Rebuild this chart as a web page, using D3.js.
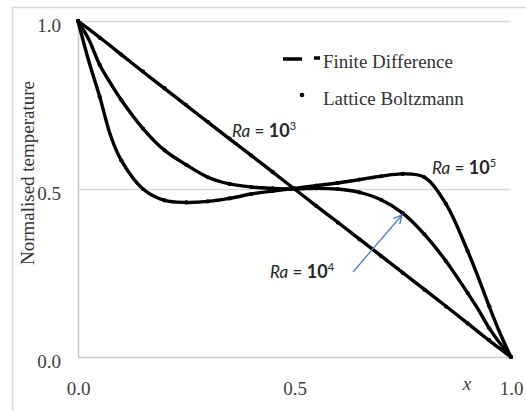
<!DOCTYPE html>
<html>
<head>
<meta charset="utf-8">
<script src="https://cdn.jsdelivr.net/npm/d3@7"></script>
<style>
  body { margin: 0; background: #fff; }
  svg { display: block; }
</style>
</head>
<body>
<div id="chart"></div>
<script>
// values
var xGrid = [0, 0.025, 0.05, 0.075, 0.1, 0.15, 0.2, 0.25, 0.3, 0.35, 0.4, 0.45, 0.5,
             0.55, 0.6, 0.65, 0.7, 0.75, 0.8, 0.85, 0.9, 0.925, 0.95, 0.975, 1];

// Finite Difference
var fdRa3 = [1, 0.976, 0.951, 0.926, 0.9, 0.849, 0.799, 0.749, 0.699, 0.649, 0.6, 0.55, 0.5,
             0.45, 0.401, 0.351, 0.301, 0.251, 0.201, 0.151, 0.1, 0.074, 0.049, 0.024, 0];
var fdRa4 = [1, 0.945, 0.87, 0.815, 0.765, 0.68, 0.615, 0.572, 0.535, 0.515, 0.506, 0.502, 0.5,
             0.502, 0.5, 0.49, 0.468, 0.428, 0.365, 0.285, 0.19, 0.14, 0.085, 0.04, 0];
var fdRa5 = [1, 0.88, 0.775, 0.66, 0.585, 0.5, 0.466, 0.46, 0.463, 0.472, 0.485, 0.494, 0.502,
             0.51, 0.518, 0.528, 0.538, 0.545, 0.535, 0.455, 0.315, 0.235, 0.15, 0.07, 0];

// Lattice Boltzmann
var lbX = [0, 0.05, 0.1, 0.15, 0.2, 0.25, 0.3, 0.35, 0.4, 0.45, 0.5,
           0.55, 0.6, 0.65, 0.7, 0.75, 0.8, 0.85, 0.9, 0.95, 1];
var lbRa3 = [1, 0.95, 0.9, 0.85, 0.8, 0.75, 0.7, 0.65, 0.6, 0.55, 0.5,
             0.45, 0.4, 0.35, 0.3, 0.25, 0.2, 0.15, 0.1, 0.05, 0];
var lbRa4 = [1, 0.87, 0.765, 0.68, 0.615, 0.572, 0.535, 0.515, 0.506, 0.502, 0.5,
             0.502, 0.5, 0.49, 0.468, 0.428, 0.365, 0.285, 0.19, 0.085, 0];
var lbRa5 = [1, 0.775, 0.585, 0.5, 0.466, 0.46, 0.463, 0.472, 0.485, 0.494, 0.502,
             0.51, 0.518, 0.528, 0.538, 0.545, 0.535, 0.455, 0.315, 0.15, 0];

var xTicks = [0, 0.5, 1];
var yTicks = [0, 0.5, 1];
var gridTicks = [0.5, 1];

var svgWidth = 526;
var svgHeight = 411;

var svg = d3.select("#chart")
  .append("svg")
  .attr("width", svgWidth)
  .attr("height", svgHeight);

// outer frame
svg.append("rect")
  .attr("x", 12.5)
  .attr("y", 7.5)
  .attr("width", 520)
  .attr("height", 420)
  .attr("fill", "none")
  .attr("stroke", "#d9d9d9")
  .attr("stroke-width", 1.5);

var xScale = d3.scaleLinear().domain([0, 1]).range([78, 511]);
var yScale = d3.scaleLinear().domain([0, 1]).range([357, 21]);

// gridlines
svg.append("g")
  .attr("transform", "translate(78,0)")
  .call(d3.axisLeft(yScale).tickValues(gridTicks).tickSize(-(511 - 78)).tickFormat(""))
  .call(g => g.select(".domain").remove())
  .selectAll("line")
  .attr("stroke", "#d9d9d9")
  .attr("stroke-width", 1.5);

// axes
var leftAxis = svg.append("g")
  .attr("transform", "translate(78,0)")
  .call(d3.axisLeft(yScale).tickValues(yTicks).tickSize(0).tickPadding(17).tickFormat(d3.format(".1f")));

var bottomAxis = svg.append("g")
  .attr("transform", "translate(0,357)")
  .call(d3.axisBottom(xScale).tickValues(xTicks).tickSize(0).tickPadding(25).tickFormat(d3.format(".1f")));

[leftAxis, bottomAxis].forEach(function(ax) {
  ax.select(".domain").attr("stroke", "#c8c8c8").attr("stroke-width", 1.5);
  ax.selectAll("text")
    .attr("font-family", "'Liberation Serif', 'Times New Roman', serif")
    .attr("font-size", 19)
    .attr("fill", "#404040");
});
leftAxis.selectAll("text").attr("dy", "0.55em");

// curves
var line = d3.line()
  .x(d => xScale(d[0]))
  .y(d => yScale(d[1]))
  .curve(d3.curveCatmullRom.alpha(0.5));

[fdRa3, fdRa4, fdRa5].forEach(function(series) {
  svg.append("path")
    .datum(xGrid.map((x, i) => [x, series[i]]))
    .attr("d", line)
    .attr("fill", "none")
    .attr("stroke", "#000")
    .attr("stroke-width", 3.4);
});

[lbRa3, lbRa4, lbRa5].forEach(function(series) {
  svg.append("g")
    .selectAll("circle")
    .data(lbX.map((x, i) => [x, series[i]]))
    .enter()
    .append("circle")
    .attr("cx", d => xScale(d[0]))
    .attr("cy", d => yScale(d[1]))
    .attr("r", 2.1)
    .attr("fill", "#000");
});

// legend
var legend = svg.append("g")
  .attr("font-family", "'Liberation Serif', 'Times New Roman', serif")
  .attr("font-size", 19)
  .attr("fill", "#333");

legend.append("line")
  .attr("x1", 283).attr("x2", 302).attr("y1", 59).attr("y2", 59)
  .attr("stroke", "#000").attr("stroke-width", 3.5);
legend.append("line")
  .attr("x1", 314).attr("x2", 320).attr("y1", 58).attr("y2", 58)
  .attr("stroke", "#000").attr("stroke-width", 3.5);
legend.append("text").attr("x", 323).attr("y", 68).text("Finite Difference");

legend.append("circle").attr("cx", 302).attr("cy", 95).attr("r", 2.3).attr("fill", "#000");
legend.append("text").attr("x", 323).attr("y", 105).text("Lattice Boltzmann");

// Ra labels
var raLabels = [
  {x: 232, y: 137, exp: "3"},
  {x: 432, y: 174, exp: "5"},
  {x: 270, y: 278, exp: "4"}
];

raLabels.forEach(function(d) {
  var t = svg.append("text")
    .attr("x", d.x)
    .attr("y", d.y)
    .attr("font-family", "Lato, 'Open Sans', sans-serif")
    .attr("font-size", 17)
    .attr("fill", "#262626");
  t.append("tspan").attr("font-style", "italic").text("Ra");
  t.append("tspan").text(" = ");
  t.append("tspan").attr("font-weight", "bold").attr("font-size", 18).text("10");
  t.append("tspan").attr("font-size", 11).attr("dy", -7).text(d.exp);
});

// arrow
svg.append("defs").append("marker")
  .attr("id", "arrow")
  .attr("viewBox", "0 0 10 10")
  .attr("refX", 9)
  .attr("refY", 5)
  .attr("markerWidth", 8)
  .attr("markerHeight", 8)
  .attr("orient", "auto")
  .append("path")
  .attr("d", "M1,1 L9,5 L1,9")
  .attr("fill", "none")
  .attr("stroke", "#4a7ebb")
  .attr("stroke-width", 1.3);

svg.append("line")
  .attr("x1", 353).attr("y1", 272)
  .attr("x2", 402).attr("y2", 215)
  .attr("stroke", "#4a7ebb")
  .attr("stroke-width", 1.3)
  .attr("marker-end", "url(#arrow)");

// axis titles
svg.append("text")
  .attr("transform", "translate(34,173) rotate(-90)")
  .attr("text-anchor", "middle")
  .attr("font-family", "'Liberation Serif', 'Times New Roman', serif")
  .attr("font-size", 19)
  .attr("fill", "#333")
  .text("Normalised temperature");

svg.append("text")
  .attr("x", 467)
  .attr("y", 390)
  .attr("text-anchor", "middle")
  .attr("font-family", "'Liberation Serif', 'Times New Roman', serif")
  .attr("font-style", "italic")
  .attr("font-size", 19)
  .attr("fill", "#404040")
  .text("x");
</script>
</body>
</html>
